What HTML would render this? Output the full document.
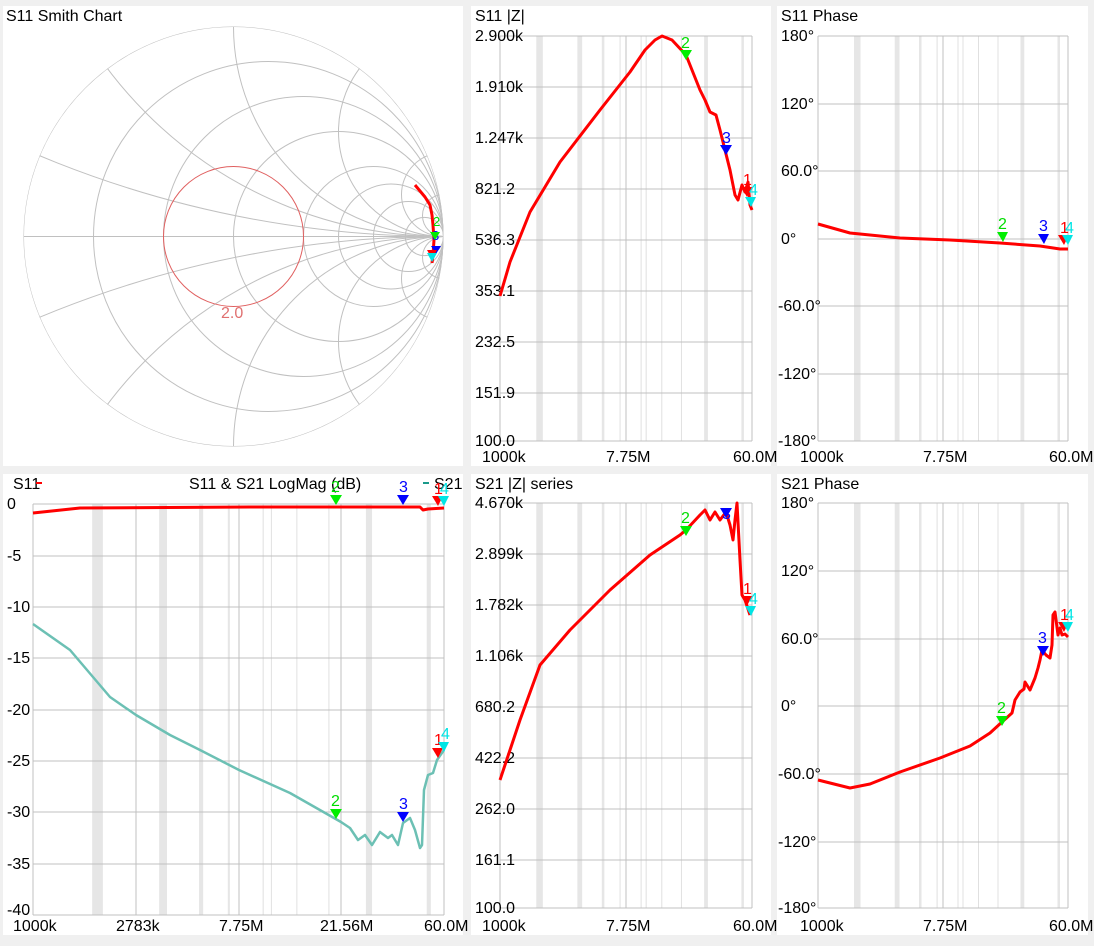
<!DOCTYPE html>
<html><head><meta charset="utf-8"><style>
html,body{margin:0;padding:0;width:1094px;height:946px;overflow:hidden;background:#f0f0f0;}
svg{display:block;font-family:"Liberation Sans",sans-serif;}
.t{font-size:16px;fill:#000}
.g{stroke:#c0c0c0;stroke-width:1;fill:none}
.r{fill:none;stroke:#ff0000;stroke-width:3;stroke-linejoin:round}
</style></head><body>
<svg width="1094" height="946" viewBox="0 0 1094 946">
<defs>
<g id="bands">
<rect x="144" y="0" width="26" height="100" fill="#e6e6e6"/>
<rect x="307" y="0" width="19" height="100" fill="#e6e6e6"/>
<rect x="404" y="0" width="10" height="100" fill="#e6e6e6"/>
<rect x="474" y="0" width="5" height="100" fill="#e6e6e6"/>
<rect x="810" y="0" width="15" height="100" fill="#e6e6e6"/>
<rect x="958" y="0" width="10" height="100" fill="#e6e6e6"/>
<path d="M560 0V100M642 0V100M580 0V100M720 0V100" stroke="#e0e0e0" vector-effect="non-scaling-stroke"/>
</g>
<clipPath id="sc"><circle cx="233.5" cy="236.5" r="210"/></clipPath>
</defs>
<rect width="1094" height="946" fill="#f0f0f0"/>
<rect x="3" y="6" width="460" height="460" fill="#fff"/>
<rect x="471" y="6" width="300" height="460" fill="#fff"/>
<rect x="777" y="6" width="311" height="460" fill="#fff"/>
<rect x="3" y="474" width="460" height="461" fill="#fff"/>
<rect x="471" y="474" width="300" height="461" fill="#fff"/>
<rect x="777" y="474" width="311" height="461" fill="#fff"/>

<!-- Smith -->
<text x="6" y="21" class="t">S11 Smith Chart</text>
<g class="g" clip-path="url(#sc)">
<circle cx="233.5" cy="236.5" r="210"/>
<line x1="23" y1="236.5" x2="444" y2="236.5"/>
<circle cx="268.5" cy="236.5" r="175"/><circle cx="303.5" cy="236.5" r="140"/>
<circle cx="338.5" cy="236.5" r="105"/><circle cx="373.5" cy="236.5" r="70"/>
<circle cx="391" cy="236.5" r="52.5"/><circle cx="408.5" cy="236.5" r="35"/>
<circle cx="424.4" cy="236.5" r="19.1"/>
<circle cx="443.5" cy="-813.5" r="1050"/><circle cx="443.5" cy="1286.5" r="1050"/>
<circle cx="443.5" cy="-183.5" r="420"/><circle cx="443.5" cy="656.5" r="420"/>
<circle cx="443.5" cy="26.5" r="210"/><circle cx="443.5" cy="446.5" r="210"/>
<circle cx="443.5" cy="131.5" r="105"/><circle cx="443.5" cy="341.5" r="105"/>
<circle cx="443.5" cy="194.5" r="42"/><circle cx="443.5" cy="278.5" r="42"/>
<circle cx="443.5" cy="215.5" r="21"/><circle cx="443.5" cy="257.5" r="21"/>
</g>
<circle cx="233.5" cy="236.5" r="70" fill="none" stroke="#e06060"/>
<text x="221" y="318" font-size="16" fill="#e07070">2.0</text>
<polyline class="r" points="415,185 425,197 430,205 432,215 433,225 434,240 433,255 432,263"/>
<path d="M431,246h10l-5,8z" fill="#0000ff"/><path d="M427,250h10l-5,9z" fill="#ff0000"/><path d="M427,253h10l-5,9z" fill="#00e5e5"/>
<text x="433" y="226" font-size="13" fill="#00dd00">2</text><text x="432" y="240" font-size="13" fill="#0000ff">3</text>
<path d="M430,232h10l-5,8z" fill="#00ee00"/>

<!-- S11 |Z| -->
<text x="475" y="21" class="t">S11 |Z|</text>
<svg x="500" y="36" width="252" height="405" viewBox="0 0 1000 100" preserveAspectRatio="none"><use href="#bands"/></svg>
<g class="g"><path d="M500 36H752M500 87H752M500 138H752M500 189H752M500 240H752M500 291H752M500 342H752M500 393H752M500 441H752M500 36V441M626 36V441M752 36V441"/></g>
<g class="t"><text x="475" y="41">2.900k</text><text x="475" y="92">1.910k</text><text x="475" y="143">1.247k</text><text x="475" y="194">821.2</text><text x="475" y="245">536.3</text><text x="475" y="296">353.1</text><text x="475" y="347">232.5</text><text x="475" y="398">151.9</text><text x="475" y="446">100.0</text></g>
<g class="t"><text x="482" y="462">1000k</text><text x="606" y="462">7.75M</text><text x="733" y="462">60.0M</text></g>
<polyline class="r" points="500,296 510,262 530,212 560,162 600,110 630,72 645,50 655,40 662,36 672,40 686,55 700,90 705,100 710,112 716,115 720,130 725,150 730,170 735,195 738,200 742,185 745,192 748,182 750,205 752,210"/>
<path d="M680,50h12l-6,10z" fill="#00ee00"/><text x="681" y="48" font-size="16" fill="#00dd00">2</text>
<path d="M720,145h12l-6,10z" fill="#0000ff"/><text x="722" y="143" font-size="16" fill="#0000ff">3</text>
<path d="M741,187h11l-5,10z" fill="#ff0000"/><text x="743" y="185" font-size="16" fill="#ff0000">1</text>
<path d="M745,197h11l-5,10z" fill="#00e5e5"/><text x="749" y="195" font-size="16" fill="#00e5e5">4</text>

<!-- S11 Phase -->
<text x="781" y="21" class="t">S11 Phase</text>
<svg x="818" y="36" width="250" height="405" viewBox="0 0 1000 100" preserveAspectRatio="none"><use href="#bands"/></svg>
<g class="g"><path d="M818 36H1068M818 104H1068M818 171H1068M818 239H1068M818 306H1068M818 374H1068M818 441H1068M818 36V441M943 36V441M1068 36V441"/></g>
<g class="t"><text x="781" y="41">180°</text><text x="781" y="109">120°</text><text x="781" y="176">60.0°</text><text x="781" y="244">0°</text><text x="778" y="311">-60.0°</text><text x="778" y="379">-120°</text><text x="778" y="446">-180°</text></g>
<g class="t"><text x="800" y="462">1000k</text><text x="923" y="462">7.75M</text><text x="1049" y="462">60.0M</text></g>
<polyline class="r" points="818,224 850,233 900,238 950,240 1000,243 1040,246 1060,249 1068,249"/>
<path d="M997,232h11l-5,10z" fill="#00ee00"/><text x="998" y="229" font-size="16" fill="#00dd00">2</text>
<path d="M1038,234h11l-5,10z" fill="#0000ff"/><text x="1039" y="231" font-size="16" fill="#0000ff">3</text>
<path d="M1058,235h11l-5,10z" fill="#ff0000"/><text x="1060" y="233" font-size="16" fill="#ff0000">1</text>
<path d="M1062,235h11l-5,10z" fill="#00e5e5"/><text x="1065" y="233" font-size="16" fill="#00e5e5">4</text>

<!-- LogMag -->
<svg x="33" y="504" width="411" height="411" viewBox="0 0 1000 100" preserveAspectRatio="none"><use href="#bands"/></svg>
<g class="g"><path d="M33 504H444M33 556H444M33 607H444M33 658H444M33 710H444M33 761H444M33 812H444M33 864H444M33 915H444M33 504V915M136 504V915M239 504V915M341 504V915M444 504V915"/></g>
<g class="t"><text x="7" y="509">0</text><text x="7" y="561">-5</text><text x="7" y="612">-10</text><text x="7" y="663">-15</text><text x="7" y="715">-20</text><text x="7" y="766">-25</text><text x="7" y="817">-30</text><text x="7" y="869">-35</text><text x="7" y="915">-40</text></g>
<g class="t"><text x="13" y="931">1000k</text><text x="116" y="931">2783k</text><text x="219" y="931">7.75M</text><text x="320" y="931">21.56M</text><text x="424" y="931">60.0M</text></g>
<text x="13" y="489" class="t">S11</text><path d="M36 483h6" stroke="#ff0000" stroke-width="2"/>
<text x="189" y="489" class="t">S11 &amp; S21 LogMag (dB)</text>
<path d="M423 483h6" stroke="#1a9a8a" stroke-width="2"/><text x="434" y="489" class="t">S21</text>
<polyline class="r" points="33,513 80,508 250,507 420,507 423,510 428,509 444,508"/>
<polyline fill="none" stroke="#6cc0b4" stroke-width="2.5" stroke-linejoin="round" points="33,624 70,650 110,697 136,715 170,735 200,750 239,770 290,793 341,822 350,828 358,840 365,835 372,845 380,832 388,838 392,835 398,845 403,823 410,818 415,830 420,848 422,845 424,790 428,775 433,773 437,760 444,750"/>
<path d="M330,495h12l-6,10z" fill="#00ee00"/><text x="331" y="492" font-size="16" fill="#00dd00">2</text>
<path d="M397,495h12l-6,10z" fill="#0000ff"/><text x="399" y="492" font-size="16" fill="#0000ff">3</text>
<path d="M432,496h11l-5,10z" fill="#ff0000"/><text x="434" y="494" font-size="16" fill="#ff0000">1</text>
<path d="M438,496h11l-5,10z" fill="#00e5e5"/><text x="440" y="494" font-size="16" fill="#00e5e5">4</text>
<path d="M330,809h12l-6,10z" fill="#00ee00"/><text x="331" y="806" font-size="16" fill="#00dd00">2</text>
<path d="M397,812h12l-6,10z" fill="#0000ff"/><text x="399" y="809" font-size="16" fill="#0000ff">3</text>
<path d="M432,748h11l-5,10z" fill="#ff0000"/><text x="434" y="745" font-size="16" fill="#ff0000">1</text>
<path d="M438,742h11l-5,10z" fill="#00e5e5"/><text x="441" y="739" font-size="16" fill="#00e5e5">4</text>

<!-- S21 |Z| -->
<text x="475" y="489" class="t">S21 |Z| series</text>
<svg x="500" y="503" width="252" height="405" viewBox="0 0 1000 100" preserveAspectRatio="none"><use href="#bands"/></svg>
<g class="g"><path d="M500 503H752M500 554H752M500 605H752M500 656H752M500 707H752M500 758H752M500 809H752M500 860H752M500 908H752M500 503V908M626 503V908M752 503V908"/></g>
<g class="t"><text x="475" y="508">4.670k</text><text x="475" y="559">2.899k</text><text x="475" y="610">1.782k</text><text x="475" y="661">1.106k</text><text x="475" y="712">680.2</text><text x="475" y="763">422.2</text><text x="475" y="814">262.0</text><text x="475" y="865">161.1</text><text x="475" y="913">100.0</text></g>
<g class="t"><text x="482" y="931">1000k</text><text x="606" y="931">7.75M</text><text x="733" y="931">60.0M</text></g>
<polyline class="r" points="500,780 520,720 540,665 570,630 610,590 650,555 680,535 686,530 700,515 705,510 710,520 715,512 720,520 726,512 730,525 733,540 735,520 737,503 740,560 742,595 745,600 750,615"/>
<path d="M680,526h12l-6,10z" fill="#00ee00"/><text x="681" y="523" font-size="16" fill="#00dd00">2</text>
<path d="M720,508h12l-6,10z" fill="#0000ff"/><text x="722" y="519" font-size="16" fill="#0000ff">3</text>
<path d="M741,596h11l-5,10z" fill="#ff0000"/><text x="743" y="594" font-size="16" fill="#ff0000">1</text>
<path d="M745,606h11l-5,10z" fill="#00e5e5"/><text x="749" y="604" font-size="16" fill="#00e5e5">4</text>

<!-- S21 Phase -->
<text x="781" y="489" class="t">S21 Phase</text>
<svg x="818" y="503" width="250" height="405" viewBox="0 0 1000 100" preserveAspectRatio="none"><use href="#bands"/></svg>
<g class="g"><path d="M818 503H1068M818 571H1068M818 639H1068M818 706H1068M818 774H1068M818 842H1068M818 908H1068M818 503V908M943 503V908M1068 503V908"/></g>
<g class="t"><text x="781" y="508">180°</text><text x="781" y="576">120°</text><text x="781" y="644">60.0°</text><text x="781" y="711">0°</text><text x="778" y="779">-60.0°</text><text x="778" y="847">-120°</text><text x="778" y="913">-180°</text></g>
<g class="t"><text x="800" y="931">1000k</text><text x="923" y="931">7.75M</text><text x="1049" y="931">60.0M</text></g>
<polyline class="r" points="818,780 850,788 870,784 900,772 940,758 970,746 990,733 1002,722 1012,713 1015,700 1020,692 1024,689 1025,682 1030,690 1035,678 1038,668 1040,660 1042,650 1046,655 1050,658 1052,645 1053,615 1055,612 1058,635 1060,628 1062,635 1065,634 1068,637"/>
<path d="M996,716h12l-6,10z" fill="#00ee00"/><text x="997" y="713" font-size="16" fill="#00dd00">2</text>
<path d="M1037,646h12l-6,10z" fill="#0000ff"/><text x="1038" y="643" font-size="16" fill="#0000ff">3</text>
<path d="M1058,622h11l-5,10z" fill="#ff0000"/><text x="1060" y="620" font-size="16" fill="#ff0000">1</text>
<path d="M1062,622h11l-5,10z" fill="#00e5e5"/><text x="1065" y="620" font-size="16" fill="#00e5e5">4</text>
</svg>
</body></html>
